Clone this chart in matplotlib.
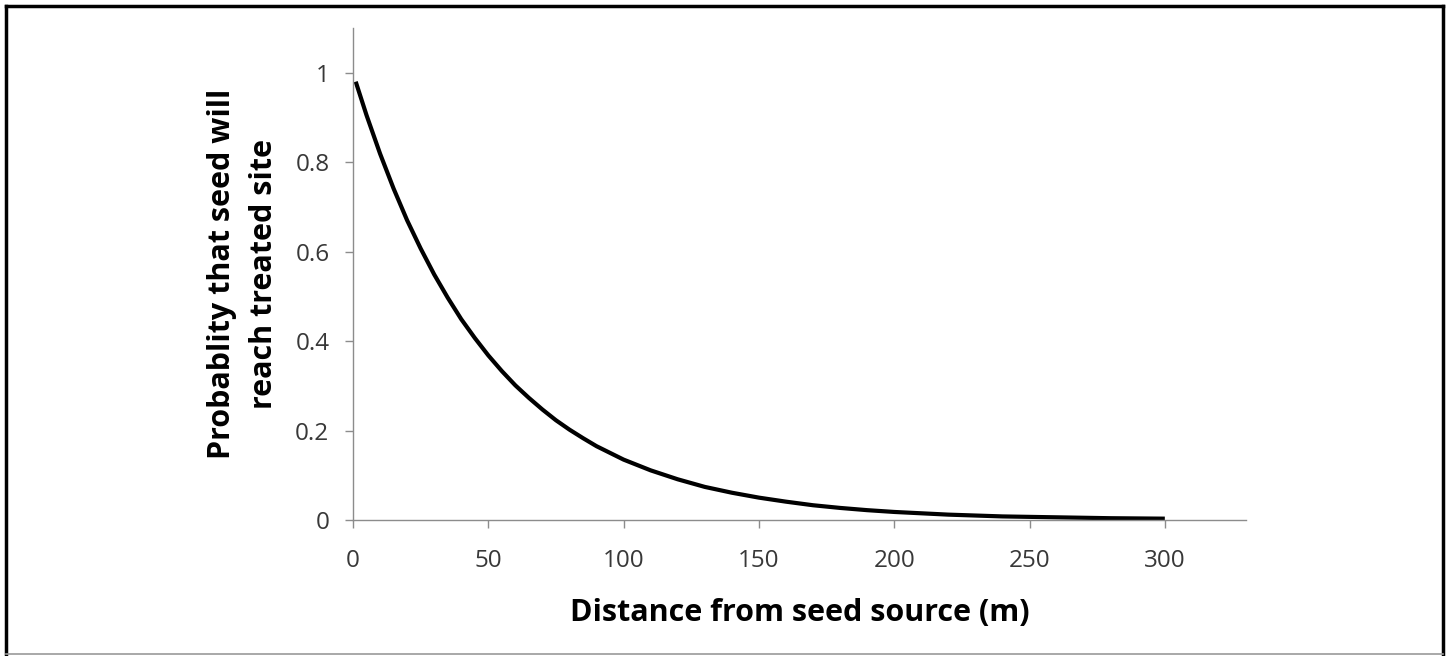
import matplotlib
matplotlib.use("Agg")
import matplotlib.pyplot as plt
from matplotlib.lines import Line2D

# Data
distance_m = [1, 5, 10, 15, 20, 25, 30, 35, 40, 45, 50, 55, 60, 65, 70, 75, 80, 85, 90, 95,
              100, 110, 120, 130, 140, 150, 160, 170, 180, 190, 200, 220, 240, 260, 280, 300]
probability = [0.980, 0.905, 0.819, 0.741, 0.670, 0.607, 0.549, 0.497, 0.449, 0.407,
               0.368, 0.333, 0.301, 0.273, 0.247, 0.223, 0.202, 0.183, 0.165, 0.150,
               0.135, 0.111, 0.091, 0.074, 0.061, 0.050, 0.041, 0.033, 0.027, 0.022,
               0.018, 0.012, 0.008, 0.006, 0.004, 0.003]
x_ticks = [0, 50, 100, 150, 200, 250, 300]
y_ticks = [0, 0.2, 0.4, 0.6, 0.8, 1]
y_tick_labels = ["0", "0.2", "0.4", "0.6", "0.8", "1"]

plt.rcParams['font.family'] = ['Open Sans', 'DejaVu Sans']

W, H = 1450, 656
fig = plt.figure(figsize=(W / 100, H / 100), dpi=100)
fig.patch.set_facecolor("white")

L, R, B, T = 353, 1246, 520, 28
ax = fig.add_axes([L / W, 1 - B / H, (R - L) / W, (B - T) / H])
ax.plot(distance_m, probability, color="black", lw=3, solid_capstyle="butt")
ax.set_xlim(0, 330)
ax.set_ylim(0, 1.1)
ax.set_xticks(x_ticks)
ax.set_yticks(y_ticks)
ax.set_yticklabels(y_tick_labels)

for s in ["top", "right"]:
    ax.spines[s].set_visible(False)
for s in ["left", "bottom"]:
    ax.spines[s].set_color("#8c8c8c")
    ax.spines[s].set_linewidth(1.0)
ax.tick_params(axis="both", direction="out", length=6, width=1, color="#8c8c8c",
               labelsize=17.5, labelcolor="#383838")
ax.tick_params(axis="x", pad=15)
ax.tick_params(axis="y", pad=11)

ax.set_xlabel("Distance from seed source (m)", fontsize=22, fontweight="bold",
              va="center")
ax.xaxis.set_label_coords(0.5, (520 - 613) / 492)
ax.set_ylabel("Probablity that seed will\nreach treated site", fontsize=22,
              fontweight="bold", va="center", linespacing=1.55)
ax.yaxis.set_label_coords((243 - 353) / 893, 0.5)

# Outer frame
fig.add_artist(Line2D([6 / W, 6 / W], [1 - 6 / H, 1 - 654 / H], color="black", lw=2.5,
                      transform=fig.transFigure))
fig.add_artist(Line2D([6 / W, 1443 / W], [1 - 6 / H, 1 - 6 / H], color="black", lw=2.5,
                      transform=fig.transFigure))
fig.add_artist(Line2D([1443 / W, 1443 / W], [1 - 6 / H, 1 - 654 / H], color="black", lw=2.5,
                      transform=fig.transFigure))
fig.add_artist(Line2D([6 / W, 1443 / W], [1 - 654 / H, 1 - 654 / H], color="#999999", lw=1.2,
                      transform=fig.transFigure))

fig.savefig("out.png", dpi=100)
